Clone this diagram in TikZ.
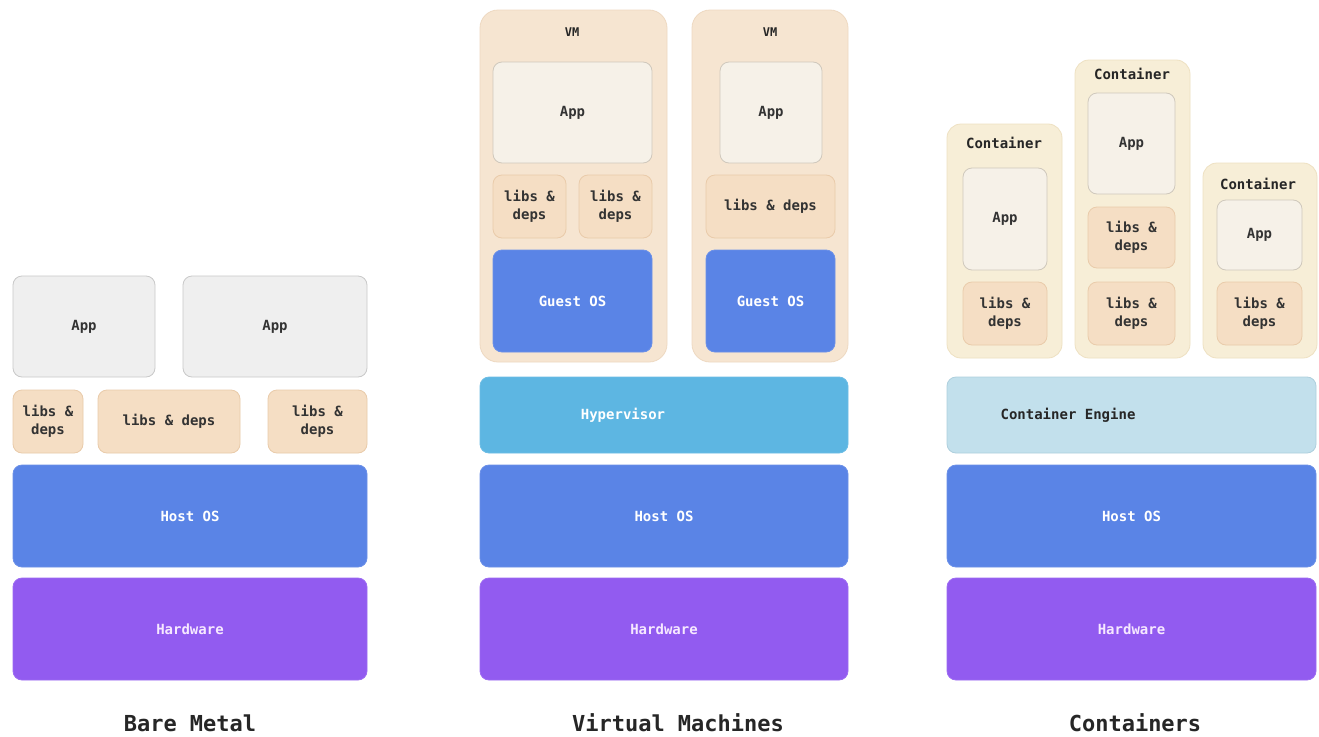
\documentclass[tikz,border=0pt]{standalone}
\usepackage{fontspec}
\setmonofont{DejaVu Sans Mono}
\begin{document}
\begin{tikzpicture}[x=1pt,y=-1pt,
  base/.style={inner sep=0pt, rounded corners=9pt, line width=0.8pt, align=center,
    font=\ttfamily\bfseries\fontsize{14}{18}\selectfont, text=black!80},
  app/.style={base, fill=appgray, draw=appgrayline},
  vapp/.style={base, fill=appcream, draw=appcreamline},
  libs/.style={base, fill=libfill, draw=libline},
  vmbox/.style={inner sep=0pt, rounded corners=18pt, line width=0.8pt, fill=vmfill, draw=vmline},
  ctbox/.style={inner sep=0pt, rounded corners=14pt, line width=0.8pt, fill=ctfill, draw=ctline},
  os/.style={base, fill=osblue, draw=osblue!90!white, text=white},
  hw/.style={base, fill=hwpurple, draw=hwpurple!90!white, text=hwtext},
  hyp/.style={base, fill=hypblue, draw=hypblue!90!white},
  eng/.style={base, fill=engblue, draw=engline},
  small/.style={inner sep=0pt, font=\ttfamily\bfseries\fontsize{14}{18}\selectfont, text=black!85},
  vmlbl/.style={inner sep=0pt, font=\ttfamily\bfseries\fontsize{12}{16}\selectfont, text=black!85},
  title/.style={inner sep=0pt, font=\ttfamily\bfseries\fontsize{22}{26}\selectfont, text=black!85}]
\definecolor{appgray}{HTML}{EFEFEF}
\definecolor{appgrayline}{HTML}{C9C9C9}
\definecolor{appcream}{HTML}{F6F1E8}
\definecolor{appcreamline}{HTML}{CFC8BC}
\definecolor{libfill}{HTML}{F5DEC4}
\definecolor{libline}{HTML}{E9CBAA}
\definecolor{vmfill}{HTML}{F6E5D1}
\definecolor{vmline}{HTML}{EED9C1}
\definecolor{ctfill}{HTML}{F7EED7}
\definecolor{ctline}{HTML}{EEE1C2}
\definecolor{osblue}{HTML}{5A84E6}
\definecolor{hwpurple}{HTML}{925BF0}
\definecolor{hwtext}{HTML}{F6E8FF}
\definecolor{hypblue}{HTML}{5DB6E2}
\definecolor{engblue}{HTML}{C2E0EC}
\definecolor{engline}{HTML}{AECFDD}

\useasboundingbox[fill=white] (0,0) rectangle (1319,736);

% ---------- Bare Metal ----------
\node[app, minimum width=142pt, minimum height=101pt] (bmApp1) at (84,326.5) {App};
\node[app, minimum width=184pt, minimum height=101pt] (bmApp2) at (275,326.5) {App};
\node[libs, minimum width=70pt, minimum height=63pt] (bmLib1) at (48,421.5) {libs \&\\deps};
\node[libs, minimum width=142pt, minimum height=63pt] (bmLib2) at (169,421.5) {libs \& deps};
\node[libs, minimum width=99pt, minimum height=63pt] (bmLib3) at (317.5,421.5) {libs \&\\deps};
\node[os, minimum width=354pt, minimum height=102pt] (bmHost) at (190,516) {Host OS};
\node[hw, minimum width=354pt, minimum height=102pt] (bmHw) at (190,629) {Hardware};
\node[title] (bmTitle) at (190,723) {Bare Metal};

% ---------- Virtual Machines ----------
\node[vmbox, minimum width=187pt, minimum height=352pt] (vm1) at (573.5,186) {};
\node[vmlbl] (vm1Lbl) at (572,32) {VM};
\node[vapp, minimum width=159pt, minimum height=101pt] (vm1App) at (572.5,112.5) {App};
\node[libs, minimum width=73pt, minimum height=63pt] (vm1LibA) at (529.5,206.5) {libs \&\\deps};
\node[libs, minimum width=73pt, minimum height=63pt] (vm1LibB) at (615.5,206.5) {libs \&\\deps};
\node[os, minimum width=159pt, minimum height=102pt] (vm1OS) at (572.5,301) {Guest OS};

\node[vmbox, minimum width=156pt, minimum height=352pt] (vm2) at (770,186) {};
\node[vmlbl] (vm2Lbl) at (770,32) {VM};
\node[vapp, minimum width=102pt, minimum height=101pt] (vm2App) at (771,112.5) {App};
\node[libs, minimum width=129pt, minimum height=63pt] (vm2Lib) at (770.5,206.5) {libs \& deps};
\node[os, minimum width=129pt, minimum height=102pt] (vm2OS) at (770.5,301) {Guest OS};

\node[hyp, minimum width=368pt, minimum height=76pt] (hyp) at (664,415) {};
\node[small, text=white] (hypTxt) at (623,415) {Hypervisor};
\node[os, minimum width=368pt, minimum height=102pt] (vmHost) at (664,516) {Host OS};
\node[hw, minimum width=368pt, minimum height=102pt] (vmHw) at (664,629) {Hardware};
\node[title] (vmTitle) at (678,723) {Virtual Machines};

% ---------- Containers ----------
\node[ctbox, minimum width=115pt, minimum height=234pt] (c1) at (1004.5,241) {};
\node[small] (c1Lbl) at (1004,143) {Container};
\node[vapp, minimum width=84pt, minimum height=102pt] (c1App) at (1005,219) {App};
\node[libs, minimum width=84pt, minimum height=63pt] (c1Lib) at (1005,313.5) {libs \&\\deps};

\node[ctbox, minimum width=115pt, minimum height=298pt] (c2) at (1132.5,209) {};
\node[small] (c2Lbl) at (1132,74) {Container};
\node[vapp, minimum width=87pt, minimum height=101pt] (c2App) at (1131.5,143.5) {App};
\node[libs, minimum width=87pt, minimum height=61pt] (c2Lib1) at (1131.5,237.5) {libs \&\\deps};
\node[libs, minimum width=87pt, minimum height=63pt] (c2Lib2) at (1131.5,313.5) {libs \&\\deps};

\node[ctbox, minimum width=114pt, minimum height=195pt] (c3) at (1260,260.5) {};
\node[small] (c3Lbl) at (1258,184) {Container};
\node[vapp, minimum width=85pt, minimum height=70pt] (c3App) at (1259.5,235) {App};
\node[libs, minimum width=85pt, minimum height=63pt] (c3Lib) at (1259.5,313.5) {libs \&\\deps};

\node[eng, minimum width=369pt, minimum height=76pt] (eng) at (1131.5,415) {};
\node[small] (engTxt) at (1068,415) {Container Engine};
\node[os, minimum width=369pt, minimum height=102pt] (cHost) at (1131.5,516) {Host OS};
\node[hw, minimum width=369pt, minimum height=102pt] (cHw) at (1131.5,629) {Hardware};
\node[title] (cTitle) at (1135,723) {Containers};
\end{tikzpicture}
\end{document}
